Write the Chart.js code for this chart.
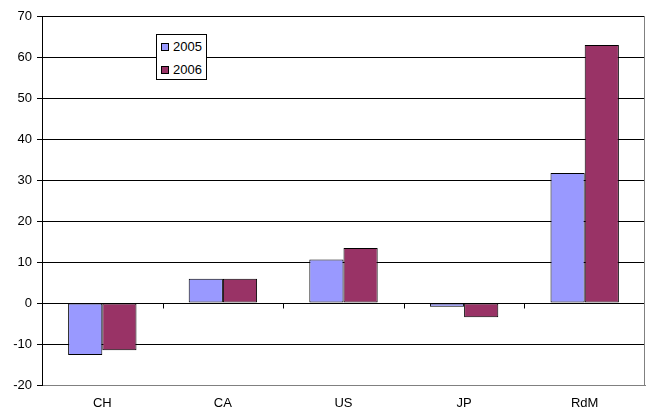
<!DOCTYPE html>
<html>
<head>
<meta charset="utf-8">
<script src="https://cdn.jsdelivr.net/npm/chart.js@4"></script>
<style>
  html, body { margin: 0; padding: 0; background: #fff; }
  #wrap { position: relative; width: 648px; height: 412px; }
  canvas { display: block; }
  #legend {
    position: absolute; left: 156px; top: 34px; width: 49px; height: 44px;
    border: 1px solid #000; background: #fff;
    font: 13px "Liberation Sans", Arial, sans-serif; color: #000;
  }
  .item { position: absolute; left: 4px; height: 15px; line-height: 15px; }
  .sw { display: inline-block; width: 6px; height: 6px; border: 1px solid #000; margin-right: 4px; vertical-align: 0px; }
</style>
</head>
<body>
<div id="wrap">
  <canvas id="c" width="648" height="412"></canvas>
  <div id="legend">
    <div class="item" style="top:4px"><span class="sw" style="background:#9999ff"></span>2005</div>
    <div class="item" style="top:27px"><span class="sw" style="background:#993366"></span>2006</div>
  </div>
</div>
<script>
const categories = ["CH", "CA", "US", "JP", "RdM"];
const values2005 = [-12.7, 5.9, 10.6, -0.9, 31.7];
const values2006 = [-11.5, 5.9, 13.4, -3.5, 62.9];
const yMin = -20, yMax = 70, yStep = 10;

// tick marks on the zero line between categories, plus the grey right border
const extras = {
  id: "extras",
  afterDraw(chart) {
    const { ctx, chartArea, scales } = chart;
    const x = scales.x, y = scales.y;
    const y0 = Math.round(y.getPixelForValue(0)) + 0.5;
    ctx.save();
    ctx.strokeStyle = "#000";
    ctx.lineWidth = 1;
    ctx.beginPath();
    ctx.moveTo(chartArea.left, y0);
    ctx.lineTo(chartArea.right, y0);
    for (let i = 1; i < categories.length; i++) {
      const px = Math.round(x.getPixelForValue(i - 0.5)) + 0.5;
      ctx.moveTo(px, y0);
      ctx.lineTo(px, y0 + 5);
    }
    ctx.stroke();
    ctx.strokeStyle = "#808080";
    ctx.beginPath();
    const rx = Math.round(chartArea.right) - 0.5;
    ctx.moveTo(rx, chartArea.top);
    ctx.lineTo(rx, chartArea.bottom);
    ctx.stroke();
    ctx.restore();
  },
};

new Chart(document.getElementById("c"), {
  type: "bar",
  data: {
    labels: categories,
    datasets: [
      { label: "2005", data: values2005, backgroundColor: "#9999ff", borderColor: "#000", borderWidth: 1, borderSkipped: false },
      { label: "2006", data: values2006, backgroundColor: "#993366", borderColor: "#000", borderWidth: 1, borderSkipped: false },
    ],
  },
  options: {
    responsive: false,
    animation: false,
    layout: { padding: { left: 0, right: 3, top: 16, bottom: 0 } },
    datasets: { bar: { categoryPercentage: 0.567, barPercentage: 1.0 } },
    plugins: { legend: { display: false }, tooltip: { enabled: false } },
    scales: {
      x: {
        grid: { display: false },
        border: { display: true, color: "#808080", width: 1 },
        ticks: { color: "#000", font: { family: "Liberation Sans", size: 13 }, padding: 3 },
        afterFit: (s) => { s.height = 27; },
      },
      y: {
        min: yMin, max: yMax,
        ticks: { stepSize: yStep, color: "#000", font: { family: "Liberation Sans", size: 13 }, padding: 5 },
        grid: {
          color: (c) => (c.tick && c.tick.value === yMin ? "#808080" : "#000"),
          tickColor: "#000",
          tickLength: 5,
        },
        border: { color: "#000", width: 1 },
        afterFit: (s) => { s.width = 42; },
      },
    },
  },
  plugins: [extras],
});
</script>
</body>
</html>
